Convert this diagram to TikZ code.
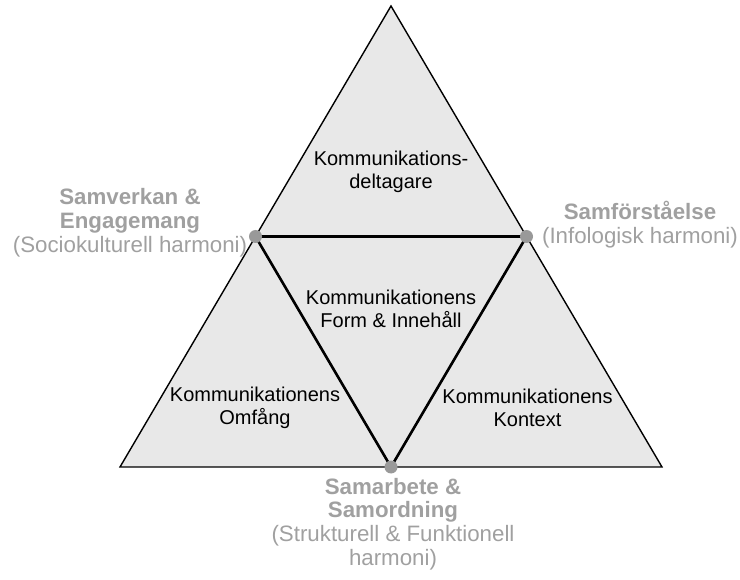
\documentclass[tikz,border=0pt]{standalone}
\usepackage{fontspec}
\setmainfont{Liberation Sans}
\begin{document}
\begin{tikzpicture}[x=1pt,y=-1pt,
  face/.style={fill=facegray,draw=black,line width=1.4pt,line join=miter},
  inner/.style={draw=black,line width=2.6pt,line join=round},
  hub/.style={circle,fill=hubgray,inner sep=0pt,minimum size=13pt},
  part/.style={align=center,font=\fontsize{20}{22.5}\selectfont,text=black,inner sep=0pt},
  harmony/.style={align=center,font=\fontsize{22.3}{23.8}\selectfont,text=labelgray,inner sep=0pt}]
\definecolor{facegray}{HTML}{E8E8E8}
\definecolor{hubgray}{HTML}{999999}
\definecolor{labelgray}{HTML}{A0A0A0}
\useasboundingbox (0,0) rectangle (740,580);
% corners of the large triangle and the midpoints of its sides
\coordinate (top) at (391,6);
\coordinate (bl) at (120,467);
\coordinate (br) at (662,467);
\coordinate (ml) at (255.5,236.5);
\coordinate (mr) at (526.5,236.5);
\coordinate (mb) at (391,467);
% the four sub-triangles
\path[face] (top) -- (ml) -- (mr) -- cycle;
\path[face] (ml) -- (bl) -- (mb) -- cycle;
\path[face] (mr) -- (mb) -- (br) -- cycle;
\path[face] (ml) -- (mr) -- (mb) -- cycle;
\draw[inner] (ml) -- (mr) -- (mb) -- cycle;
% hubs on the side midpoints
\node[hub] (hl) at (ml) {};
\node[hub] (hr) at (mr) {};
\node[hub] (hb) at (mb) {};
% labels of the sub-triangles
\node[part] (deltagare) at (391,172) {Kommunikations-\\deltagare};
\node[part] (form) at (391,309) {Kommunikationens\\Form \& Innehåll};
\node[part] (omfang) at (255,408) {Kommunikationens\\Omfång};
\node[part] (kontext) at (527.5,408) {Kommunikationens\\Kontext};
% labels of the hubs
\node[harmony] (samverkan) at (130,223) {\textbf{Samverkan \&}\\\textbf{Engagemang}\\(Sociokulturell harmoni)};
\node[harmony] (samforstaelse) at (640,225) {\textbf{Samförståelse}\\(Infologisk harmoni)};
\node[harmony] (samarbete) at (393,524) {\textbf{Samarbete \&}\\\textbf{Samordning}\\(Strukturell \& Funktionell\\harmoni)};
\end{tikzpicture}
\end{document}
